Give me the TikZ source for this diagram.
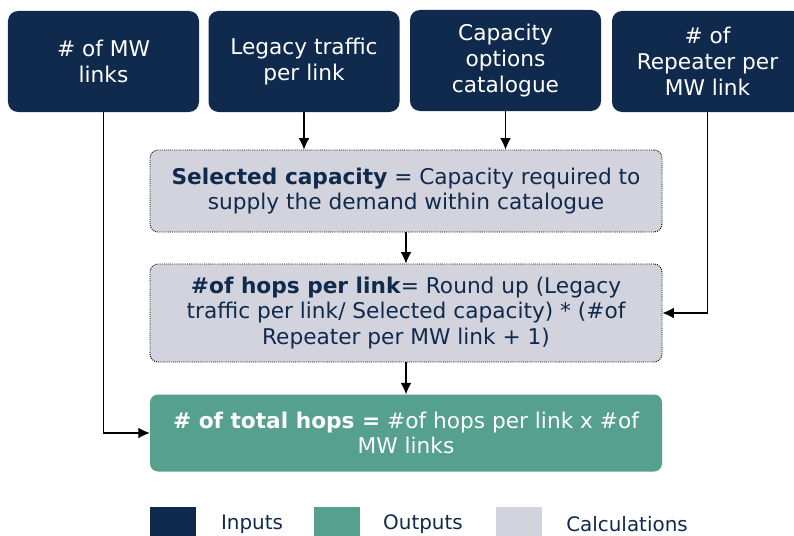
\documentclass[tikz,border=0pt]{standalone}
\usepackage{fontspec}
\setmainfont{DejaVu Sans}
\usepackage{tikz}
\usetikzlibrary{arrows}
\usetikzlibrary{arrows.meta}
\tikzset{>={Latex[width=3.2mm,length=3.4mm]}}

\definecolor{navy}{HTML}{0F2A4C}
\definecolor{teal}{HTML}{55A08E}
\definecolor{calcgray}{HTML}{D3D3DD}

\tikzset{
  inbox/.style={fill=navy, text=white, rounded corners=3mm, align=center,
    minimum width={191*\px*1cm}, minimum height={101*\px*1cm},
    font=\fontsize{18.5}{22}\selectfont},
  calcbox/.style={fill=calcgray, draw=black, densely dotted, line width=0.8pt,
    text=navy, rounded corners=2.4mm, align=center,
    minimum width={512*\px*1cm}, font=\fontsize{18.5}{22}\selectfont},
  outbox/.style={fill=teal, text=white, rounded corners=2.4mm, align=center,
    minimum width={512*\px*1cm}, minimum height={77*\px*1cm},
    font=\fontsize{18.5}{22}\selectfont},
  legbox/.style={minimum width={46*\px*1cm}, minimum height={30*\px*1cm}, inner sep=0pt},
  legtext/.style={text=navy, font=\fontsize{17}{20}\selectfont},
  link/.style={->, line width=0.9pt}
}

\begin{document}
\begin{tikzpicture}[x=0.03cm,y=-0.03cm]
  % Define variables
  \pgfmathsetmacro{\px}{0.03}  % one pixel of the reference
  \useasboundingbox (0,0) rectangle (794,535);

  % Draw inputs
  \node[inbox] (links)    at (103.5, 61.5) {\# of MW\\links};
  \node[inbox] (legacy)   at (304, 61.5)   {Legacy traffic\\per link};
  \node[inbox] (catalog)  at (505.5, 60.5) {Capacity\\options\\catalogue};
  \node[inbox] (repeater) at (707.5, 61.5) {\# of\\Repeater per\\MW link};

  % Draw calculations
  \node[calcbox, minimum height={82*\px*1cm}] (selcap) at (406, 191)
    {\textbf{Selected capacity} = Capacity required to\\supply the demand within catalogue};
  \node[calcbox, minimum height={98*\px*1cm}] (hops) at (406, 313)
    {\textbf{\#of hops per link}= Round up (Legacy\\traffic per link/ Selected capacity) * (\#of\\Repeater per MW link + 1)};

  % Draw output
  \node[outbox] (total) at (406, 433)
    {\textbf{\# of total hops =} \#of hops per link x \#of\\MW links};

  % Draw connectors
  \draw[link] (legacy.south) -- (legacy.south |- selcap.north);
  \draw[link] (catalog.south) -- (catalog.south |- selcap.north);
  \draw[link] (selcap.south) -- (hops.north);
  \draw[link] (hops.south) -- (total.north);
  \draw[link] (repeater.south) |- (hops.east);
  \draw[link] (links.south) |- (total.west);

  % Draw legend
  \node[legbox, fill=navy]     (legIn)   at (173, 522) {};
  \node[legbox, fill=teal]     (legOut)  at (336.5, 522) {};
  \node[legbox, fill=calcgray] (legCalc) at (518.5, 522) {};
  \node[legtext] (legInTxt)   at (252, 524) {Inputs};
  \node[legtext] (legOutTxt)  at (423, 524) {Outputs};
  \node[legtext] (legCalcTxt) at (627, 524) {Calculations};
\end{tikzpicture}
\end{document}
